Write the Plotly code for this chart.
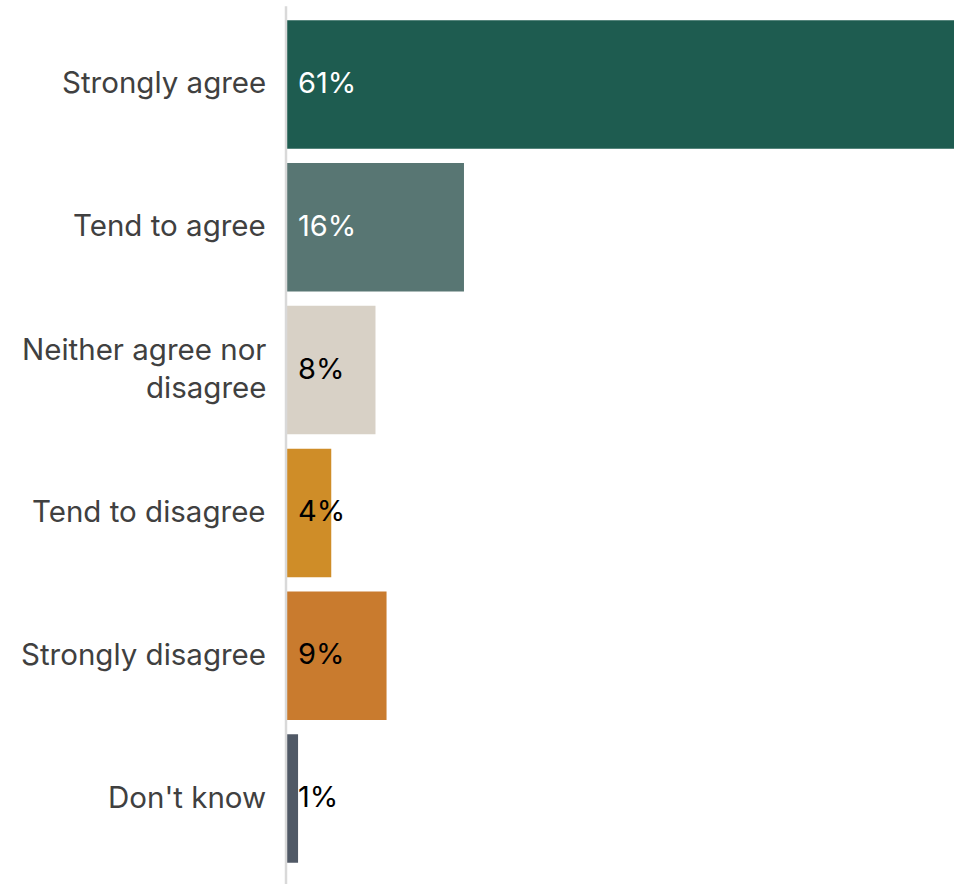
import plotly.graph_objects as go

categories = ["Strongly agree", "Tend to agree", "Neither agree nor<br>disagree",
              "Tend to disagree", "Strongly disagree", "Don't know"]
values = [61, 16, 8, 4, 9, 1]
bar_colors = ["#1e5c50", "#587673", "#d8d1c6", "#cf8d28", "#c97b2e", "#505966"]
label_colors = ["#ffffff", "#ffffff", "#000000", "#000000", "#000000", "#000000"]

FONT = "Inter, Roboto, sans-serif"
TICK_SIZE = 29.5
VALUE_SIZE = 29

fig = go.Figure()
fig.add_trace(go.Bar(
    x=values, y=categories, orientation="h",
    marker=dict(color=bar_colors, line=dict(width=0)),
    hoverinfo="skip",
))

# value labels
for cat, v, c in zip(categories, values, label_colors):
    fig.add_annotation(
        x=0, y=cat, text=f"{v}%", showarrow=False,
        xanchor="left", yanchor="middle", xshift=9, yshift=2,
        font=dict(family=FONT, size=VALUE_SIZE, color=c),
    )

# category labels
for cat in categories:
    fig.add_annotation(
        xref="paper", x=0, y=cat, text=cat, showarrow=False,
        xanchor="right", yanchor="middle", align="right",
        xshift=-19, yshift=2,
        font=dict(family=FONT, size=TICK_SIZE, color="#404040"),
    )

fig.add_shape(type="line", xref="paper", yref="paper",
              xsizemode="pixel", xanchor=0, x0=-1, x1=-1,
              y0=-0.03, y1=1.008,
              line=dict(color="#d9d9d9", width=2.5), layer="above")

fig.update_layout(
    width=954, height=884,
    margin=dict(l=287, r=0, t=13, b=14),
    paper_bgcolor="white", plot_bgcolor="white",
    showlegend=False,
    bargap=0.1,
    font=dict(family=FONT, size=TICK_SIZE, color="#404040"),
    xaxis=dict(range=[0, 60.3], visible=False, fixedrange=True),
    yaxis=dict(autorange="reversed", showgrid=False, zeroline=False,
               showline=False, ticks="", showticklabels=False,
               fixedrange=True),
)

fig.write_html("out.html", config={"displayModeBar": False},
               post_script="document.body.style.margin='0';document.body.style.overflow='hidden';")
